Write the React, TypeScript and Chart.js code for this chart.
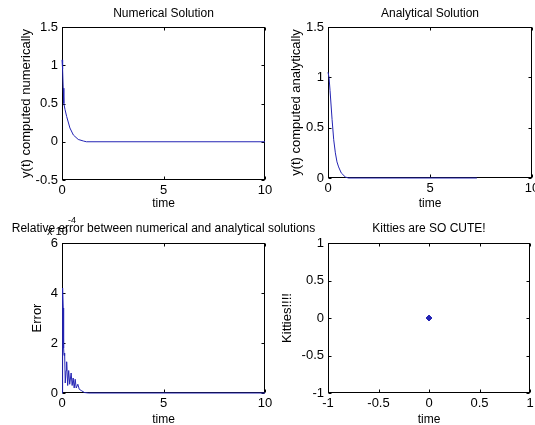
import React, { useEffect, useRef } from "react";
import { Chart, registerables } from "chart.js";

Chart.register(...registerables);

// ---- data ----
const numTime = [0, 0.03, 0.06, 0.09, 0.15, 0.23, 0.39, 0.56, 0.8, 1.05, 1.2, 10];
const numValue = [1.07, 0.95, 0.7, 0.5, 0.42, 0.33, 0.18, 0.088, 0.03, 0.01, 0, 0];

const anaTime = [0, 0.05, 0.1, 0.2, 0.28, 0.36, 0.44, 0.52, 0.65, 0.85, 1.0, 7.3];
const anaValue = [1.05, 1.0, 0.87, 0.58, 0.38, 0.25, 0.16, 0.11, 0.05, 0.01, 0, 0];

const errTime = [0, 0.03, 0.06, 0.08, 0.1, 0.13, 0.16, 0.2, 0.23, 0.28, 0.33, 0.38, 0.45, 0.5, 0.55, 0.6, 0.65, 0.7, 0.78, 0.85, 0.95, 1.1, 1.3, 10];
const errValue = [0, 4.2, 3.4, 1.8, 1.5, 1.6, 0.4, 0.9, 1.25, 0.3, 0.9, 0.35, 0.8, 0.3, 0.6, 0.2, 0.55, 0.2, 0.35, 0.15, 0.1, 0.02, 0, 0];

const kittyX = [0];
const kittyY = [0];

const FONT = "'Liberation Sans', Arial, Helvetica, sans-serif";
const LINE = "#2424b4";

type Panel = {
  key: string;
  left: number; top: number; width: number; height: number;
  padL: number; padT: number; padR: number; padB: number;
  yW: number; xH: number;
  xMin: number; xMax: number; xStep: number;
  yMin: number; yMax: number; yStep: number;
  xs: number[]; ys: number[];
  marker: boolean;
  title: string; titleY: number;
  yLabel: string; yLabelX: number;
  xLabelY: number;
  exponent: boolean;
};

const panels: Panel[] = [
  {
    key: "num", left: 0, top: 0, width: 300, height: 215,
    padL: 22, padT: 27, padR: 35, padB: 15, yW: 40, xH: 20,
    xMin: 0, xMax: 10, xStep: 5, yMin: -0.5, yMax: 1.5, yStep: 0.5,
    xs: numTime, ys: numValue, marker: false,
    title: "Numerical Solution", titleY: 14,
    yLabel: "y(t) computed numerically", yLabelX: 26, xLabelY: 204, exponent: false,
  },
  {
    key: "ana", left: 267, top: 0, width: 268, height: 215,
    padL: 21, padT: 27, padR: 3, padB: 17, yW: 40, xH: 20,
    xMin: 0, xMax: 10, xStep: 5, yMin: 0, yMax: 1.5, yStep: 0.5,
    xs: anaTime, ys: anaValue, marker: false,
    title: "Analytical Solution", titleY: 14,
    yLabel: "y(t) computed analytically", yLabelX: 296, xLabelY: 204, exponent: false,
  },
  {
    key: "err", left: 0, top: 212, width: 340, height: 213,
    padL: 22, padT: 31, padR: 75, padB: 12, yW: 40, xH: 20,
    xMin: 0, xMax: 10, xStep: 5, yMin: 0, yMax: 6, yStep: 2,
    xs: errTime, ys: errValue, marker: false,
    title: "Relative error between numerical and analytical solutions", titleY: 229,
    yLabel: "Error", yLabelX: 37, xLabelY: 420, exponent: true,
  },
  {
    key: "kit", left: 267, top: 212, width: 268, height: 213,
    padL: 21, padT: 31, padR: 3, padB: 12, yW: 40, xH: 20,
    xMin: -1, xMax: 1, xStep: 0.5, yMin: -1, yMax: 1, yStep: 0.5,
    xs: kittyX, ys: kittyY, marker: true,
    title: "Kitties are SO CUTE!", titleY: 229,
    yLabel: "Kitties!!!!", yLabelX: 287, xLabelY: 420, exponent: false,
  },
];

const fmt = (v: any) => String(Math.round(Number(v) * 1000) / 1000);

const framePlugin = {
  id: "matlabFrame",
  beforeDatasetsDraw(chart: any) {
    const { ctx, chartArea: a, scales } = chart;
    const L = Math.round(a.left) + 0.5;
    const R = Math.round(a.right) - 0.5;
    const T = Math.round(a.top) + 0.5;
    const B = Math.round(a.bottom) - 0.5;
    const tl = 3;
    ctx.save();
    ctx.strokeStyle = "#000";
    ctx.lineWidth = 1;
    ctx.strokeRect(L, T, R - L, B - T);
    ctx.beginPath();
    scales.x.ticks.forEach((t: any) => {
      const px = Math.round(scales.x.getPixelForValue(t.value)) + 0.5;
      ctx.moveTo(px, B); ctx.lineTo(px, B - tl);
      ctx.moveTo(px, T); ctx.lineTo(px, T + tl);
    });
    scales.y.ticks.forEach((t: any) => {
      const py = Math.round(scales.y.getPixelForValue(t.value)) + 0.5;
      ctx.moveTo(L, py); ctx.lineTo(L + tl, py);
      ctx.moveTo(R, py); ctx.lineTo(R - tl, py);
    });
    ctx.stroke();
    ctx.restore();
  },
  afterDraw(chart: any, _args: any, opts: any) {
    const { ctx, chartArea: a } = chart;
    ctx.save();
    ctx.fillStyle = "#000";
    ctx.font = `12px ${FONT}`;
    ctx.textAlign = "center";
    ctx.textBaseline = "middle";
    const cx = (a.left + a.right) / 2;
    ctx.fillText(opts.title, cx, opts.titleY - opts.top);
    ctx.fillText("time", cx, opts.xLabelY - opts.top);
    ctx.save();
    ctx.font = `13px ${FONT}`;
    ctx.translate(opts.yLabelX - opts.left, (a.top + a.bottom) / 2);
    ctx.rotate(-Math.PI / 2);
    ctx.fillText(opts.yLabel, 0, 0);
    ctx.restore();
    if (opts.exponent) {
      ctx.textAlign = "left";
      ctx.font = `11px ${FONT}`;
      ctx.fillText("x 10", 47 - opts.left, 232 - opts.top);
      ctx.font = `9px ${FONT}`;
      ctx.fillText("-4", 68 - opts.left, 221 - opts.top);
    }
    ctx.restore();
  },
};

function PanelChart({ p }: { p: Panel }) {
  const ref = useRef<HTMLCanvasElement | null>(null);
  useEffect(() => {
    if (!ref.current) return;
    const points = p.xs.map((x, i) => ({ x, y: p.ys[i] }));
    const tickFont = { family: FONT, size: 13 };
    const chart = new Chart(ref.current, {
      type: "scatter",
      data: {
        datasets: [
          {
            data: points,
            showLine: !p.marker,
            borderColor: LINE,
            backgroundColor: LINE,
            borderWidth: 1,
            pointRadius: p.marker ? 3 : 0,
            pointStyle: p.marker ? "rectRot" : "circle",
            tension: 0,
            clip: 4,
          } as any,
        ],
      },
      options: {
        animation: false,
        responsive: false,
        events: [],
        layout: { padding: { left: p.padL, top: p.padT, right: p.padR, bottom: p.padB } },
        plugins: {
          legend: { display: false },
          tooltip: { enabled: false },
          matlabFrame: {
            title: p.title, titleY: p.titleY, yLabel: p.yLabel, yLabelX: p.yLabelX,
            xLabelY: p.xLabelY, left: p.left, top: p.top, exponent: p.exponent,
          },
        } as any,
        scales: {
          x: {
            type: "linear",
            min: p.xMin, max: p.xMax,
            grid: { display: false, drawTicks: false },
            border: { display: false },
            ticks: { stepSize: p.xStep, font: tickFont, color: "#000", padding: 3, maxRotation: 0, callback: fmt },
            afterFit: (s: any) => { s.height = p.xH; s.paddingLeft = 0; s.paddingRight = 0; },
          },
          y: {
            type: "linear",
            min: p.yMin, max: p.yMax,
            grid: { display: false, drawTicks: false },
            border: { display: false },
            ticks: { stepSize: p.yStep, font: tickFont, color: "#000", padding: 4, callback: fmt },
            afterFit: (s: any) => { s.width = p.yW; s.paddingTop = 0; s.paddingBottom = 0; },
          },
        },
      },
      plugins: [framePlugin],
    });
    return () => chart.destroy();
  }, [p]);
  return (
    <canvas
      ref={ref}
      width={p.width}
      height={p.height}
      style={{ position: "absolute", left: p.left, top: p.top, width: p.width, height: p.height }}
    />
  );
}

export default function App() {
  return (
    <div style={{ position: "fixed", left: 0, top: 0, width: 535, height: 425, background: "#fff", overflow: "hidden" }}>
      {panels.map((p) => (
        <PanelChart key={p.key} p={p} />
      ))}
    </div>
  );
}
